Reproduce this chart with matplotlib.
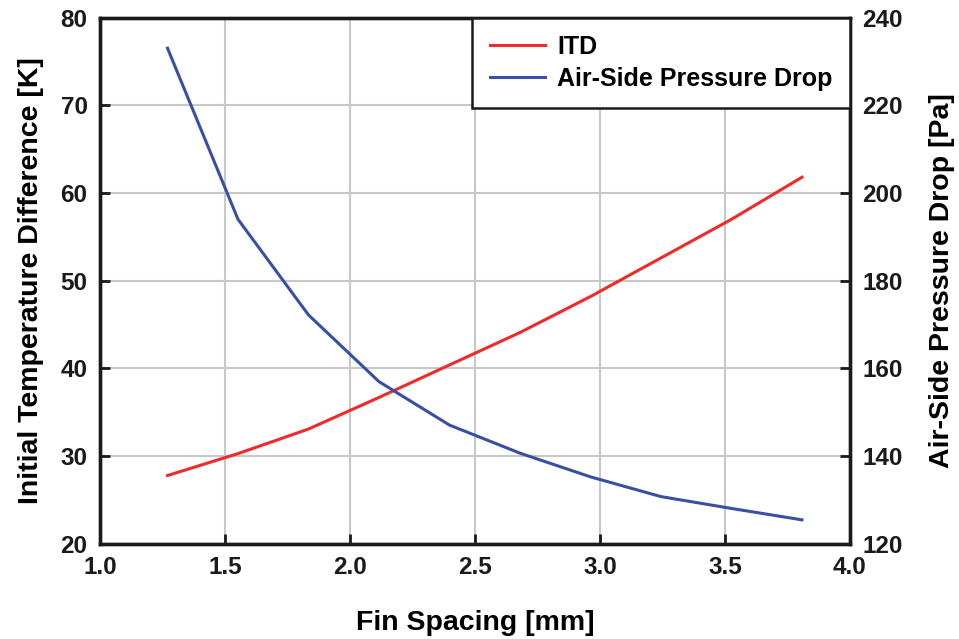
import matplotlib
matplotlib.use("Agg")
import matplotlib.pyplot as plt

# fin spacing [mm]
fin_spacing = [1.27, 1.552, 1.834, 2.116, 2.398, 2.68, 2.962, 3.244, 3.526, 3.808]
# initial temperature difference [K]
itd = [27.8, 30.3, 33.1, 36.7, 40.4, 44.1, 48.2, 52.6, 57.0, 61.8]
# air-side pressure drop [Pa]
dp_air = [233.0, 194.0, 172.2, 157.0, 147.1, 140.7, 135.3, 130.8, 128.1, 125.5]

C_ITD = "#EE2A2A"
C_DP = "#3A4FA3"
FONT = ["Liberation Sans", "DejaVu Sans"]

plt.rcParams.update({"font.family": FONT, "font.weight": "bold"})

fig = plt.figure(figsize=(9.59, 6.39), dpi=100)
ax = fig.add_axes([0.1043, 0.1487, 0.7820, 0.8239])
ax2 = ax.twinx()

l1, = ax.plot(fin_spacing, itd, color=C_ITD, lw=2.2, label="ITD")
l2, = ax2.plot(fin_spacing, dp_air, color=C_DP, lw=2.2, label="Air-Side Pressure Drop")

ax.set_xlim(1.0, 4.0)
ax.set_ylim(20, 80)
ax2.set_ylim(120, 240)
ax.set_xticks([1.0, 1.5, 2.0, 2.5, 3.0, 3.5, 4.0])
ax.set_yticks(range(20, 81, 10))
ax2.set_yticks(range(120, 241, 20))

ax.grid(True, color="#c8c8c8", lw=1.5)
ax.set_axisbelow(True)

for a in (ax, ax2):
    for s in a.spines.values():
        s.set_linewidth(2.4)
        s.set_color("#1a1a1a")
    a.tick_params(direction="in", length=7, width=2, labelsize=17.5, colors="#1a1a1a")
ax.tick_params(axis="x", pad=9)
ax.tick_params(axis="y", pad=9)
ax2.tick_params(axis="y", pad=9)

ax.set_xlabel("Fin Spacing [mm]", fontsize=20.5, fontweight="bold", labelpad=22)
ax.set_ylabel("Initial Temperature Difference [K]", fontsize=20.5, fontweight="bold", labelpad=12)
ax2.set_ylabel("Air-Side Pressure Drop [Pa]", fontsize=20.5, fontweight="bold", labelpad=19)

leg = ax2.legend(handles=[l1, l2], loc="upper right", fancybox=False, framealpha=1,
                 edgecolor="#1a1a1a", borderaxespad=0, handlelength=2.2, borderpad=0.7,
                 labelspacing=0.3, handletextpad=0.5,
                 prop={"weight": "bold", "size": 18})
leg.get_frame().set_linewidth(1.8)

fig.savefig("out.png", dpi=100)
